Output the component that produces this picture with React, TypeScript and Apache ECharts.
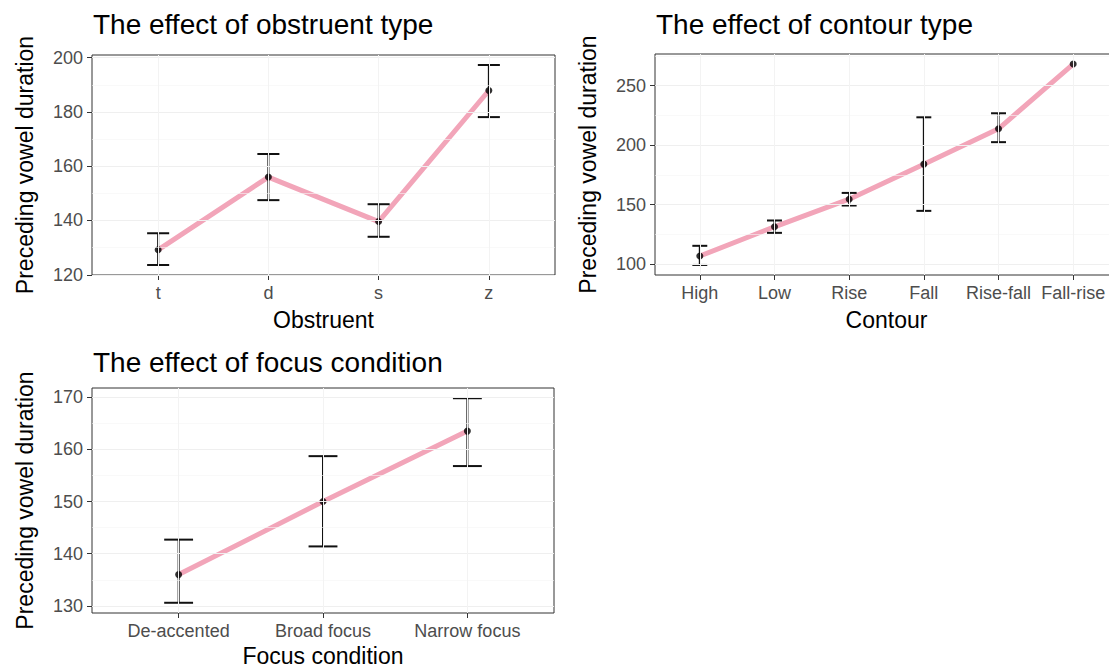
import React, { useEffect, useRef } from "react";
import * as echarts from "echarts";

// ---- Data ----
const obstruentCats = ["t", "d", "s", "z"];
const obstruentMean = [129.2, 156.0, 139.6, 187.9];
const obstruentLow = [123.6, 147.5, 134.0, 178.1];
const obstruentHigh = [135.3, 164.5, 146.0, 197.3];
const obstruentTicks = [120, 140, 160, 180, 200];

const contourCats = ["High", "Low", "Rise", "Fall", "Rise-fall", "Fall-rise"];
const contourMean = [106.7, 131.3, 154.5, 184.0, 213.7, 268.2];
const contourLow: (number | null)[] = [99.2, 126.2, 149.2, 144.7, 202.5, null];
const contourHigh: (number | null)[] = [115.3, 136.6, 159.8, 223.4, 226.8, null];
const contourTicks = [100, 150, 200, 250];

const focusCats = ["De-accented", "Broad focus", "Narrow focus"];
const focusMean = [136.0, 150.0, 163.5];
const focusLow = [130.6, 141.4, 156.8];
const focusHigh = [142.7, 158.7, 169.8];
const focusTicks = [130, 140, 150, 160, 170];

const titles = [
  "The effect of obstruent type",
  "The effect of contour type",
  "The effect of focus condition",
];
const xTitles = ["Obstruent", "Contour", "Focus condition"];
const yTitle = "Preceding vowel duration";

const FONT = "'Liberation Sans', Arial, Helvetica, sans-serif";

type Panel = {
  cats: string[];
  mean: number[];
  low: (number | null)[];
  high: (number | null)[];
  ticks: number[];
  grid: { left: number; top: number; width: number; height: number };
};

const panels: Panel[] = [
  {
    cats: obstruentCats, mean: obstruentMean, low: obstruentLow, high: obstruentHigh, ticks: obstruentTicks,
    grid: { left: 92, top: 55, width: 463, height: 220 },
  },
  {
    cats: contourCats, mean: contourMean, low: contourLow, high: contourHigh, ticks: contourTicks,
    grid: { left: 655, top: 54, width: 463, height: 221 },
  },
  {
    cats: focusCats, mean: focusMean, low: focusLow, high: focusHigh, ticks: focusTicks,
    grid: { left: 92, top: 388, width: 462, height: 225 },
  },
];

function yExtent(p: Panel): [number, number] {
  const vals: number[] = [];
  p.mean.forEach((v) => vals.push(v));
  p.low.forEach((v) => v != null && vals.push(v));
  p.high.forEach((v) => v != null && vals.push(v));
  const lo = Math.min(...vals);
  const hi = Math.max(...vals);
  const pad = (hi - lo) * 0.05;
  return [lo - pad, hi + pad];
}

function buildOption() {
  const grids: any[] = [];
  const xAxes: any[] = [];
  const yAxes: any[] = [];
  const series: any[] = [];
  const graphics: any[] = [];

  panels.forEach((p, k) => {
    const n = p.cats.length;
    const idx = p.cats.map((_, i) => i);
    const [ymin, ymax] = yExtent(p);
    grids.push({
      ...p.grid,
      show: true,
      borderColor: "#333333",
      borderWidth: 1,
      backgroundColor: "transparent",
      containLabel: false,
      outerBoundsMode: "none",
    });
    xAxes.push({
      type: "value",
      gridIndex: k,
      min: -0.6,
      max: n - 1 + 0.6,
      axisLine: { show: false, onZero: false },
      splitLine: { show: false },
      axisTick: { show: true, customValues: idx, length: 5, lineStyle: { color: "#333333", width: 1 } },
      axisLabel: {
        customValues: idx,
        formatter: (v: number) => p.cats[Math.round(v)] ?? "",
        color: "#4d4d4d",
        fontSize: 18,
        fontFamily: FONT,
        margin: 9,
      },
    });
    yAxes.push({
      type: "value",
      gridIndex: k,
      min: ymin,
      max: ymax,
      axisLine: { show: false, onZero: false },
      splitLine: { show: false },
      axisTick: { show: true, customValues: p.ticks, length: 5, lineStyle: { color: "#333333", width: 1 } },
      axisLabel: {
        customValues: p.ticks,
        color: "#4d4d4d",
        fontSize: 18,
        fontFamily: FONT,
        margin: 9,
      },
    });

    // grid lines (major + minor) as mark lines
    const step = p.ticks[1] - p.ticks[0];
    const minors: number[] = [];
    [p.ticks[0] - step, ...p.ticks].forEach((t) => {
      const m = t + step / 2;
      if (m > ymin && m < ymax) minors.push(m);
    });
    series.push({
      type: "line",
      xAxisIndex: k,
      yAxisIndex: k,
      data: idx.map((i) => [i, p.mean[i]]),
      symbol: "none",
      lineStyle: { opacity: 0 },
      silent: true,
      z: 0,
      markLine: {
        silent: true,
        symbol: ["none", "none"],
        label: { show: false },
        animation: false,
        lineStyle: { color: "#efefef", width: 1, type: "solid" },
        data: [
          ...p.ticks.map((v) => ({ yAxis: v })),
          ...minors.map((v) => ({ yAxis: v, lineStyle: { color: "#f5f5f5", width: 0.6, type: "solid" } })),
          ...idx.map((i) => ({ xAxis: i, lineStyle: { color: "#f3f3f3", width: 1, type: "solid" } })),
        ],
      },
    });
    // pink connecting line
    series.push({
      type: "line",
      xAxisIndex: k,
      yAxisIndex: k,
      data: idx.map((i) => [i, p.mean[i]]),
      symbol: "none",
      lineStyle: { color: "#f2a5b9", width: 5 },
      z: 2,
    });
    // error bars
    const ebData = idx
      .filter((i) => p.low[i] != null && p.high[i] != null)
      .map((i) => [i, p.low[i], p.high[i]]);
    series.push({
      type: "custom",
      xAxisIndex: k,
      yAxisIndex: k,
      data: ebData,
      encode: { x: 0, y: [1, 2] },
      z: 3,
      renderItem: (_params: any, api: any) => {
        const x = api.value(0);
        const lo = api.value(1);
        const hi = api.value(2);
        const top = api.coord([x, hi]);
        const bot = api.coord([x, lo]);
        const l = api.coord([x - 0.1, hi])[0];
        const r = api.coord([x + 0.1, hi])[0];
        const st = { stroke: "#111111", lineWidth: 2 };
        return {
          type: "group",
          children: [
            { type: "line", shape: { x1: top[0], y1: top[1], x2: bot[0], y2: bot[1] }, style: st },
            { type: "line", shape: { x1: l, y1: top[1], x2: r, y2: top[1] }, style: st },
            { type: "line", shape: { x1: l, y1: bot[1], x2: r, y2: bot[1] }, style: st },
          ],
        };
      },
    });
    // points
    series.push({
      type: "scatter",
      xAxisIndex: k,
      yAxisIndex: k,
      data: idx.map((i) => [i, p.mean[i]]),
      symbol: "circle",
      symbolSize: 7,
      itemStyle: { color: "#000000" },
      z: 4,
    });

    const g = p.grid;
    // panel title
    graphics.push({
      type: "text",
      x: g.left + 1,
      y: k === 2 ? 362 : 24,
      style: {
        text: titles[k],
        fill: "#000000",
        fontSize: 28,
        fontFamily: FONT,
        align: "left",
        verticalAlign: "middle",
      },
    });
    // x axis title
    graphics.push({
      type: "text",
      x: g.left + g.width / 2,
      y: k === 2 ? 656 : 320,
      style: {
        text: xTitles[k],
        fill: "#000000",
        fontSize: 23,
        fontFamily: FONT,
        align: "center",
        verticalAlign: "middle",
      },
    });
    // y axis title
    graphics.push({
      type: "text",
      x: g.left - 67,
      y: g.top + g.height / 2,
      rotation: Math.PI / 2,
      style: {
        text: yTitle,
        fill: "#000000",
        fontSize: 23,
        fontFamily: FONT,
        align: "center",
        verticalAlign: "middle",
      },
    });
  });

  return {
    animation: false,
    backgroundColor: "#ffffff",
    grid: grids,
    xAxis: xAxes,
    yAxis: yAxes,
    series,
    graphic: graphics,
  };
}

export default function App() {
  const ref = useRef<HTMLDivElement>(null);
  useEffect(() => {
    if (!ref.current) return;
    const chart = echarts.init(ref.current, undefined, { renderer: "svg" });
    chart.setOption(buildOption() as any);
    return () => chart.dispose();
  }, []);
  return (
    <div
      ref={ref}
      style={{ position: "absolute", left: 0, top: 0, width: 1109, height: 669, background: "#fff" }}
    />
  );
}
